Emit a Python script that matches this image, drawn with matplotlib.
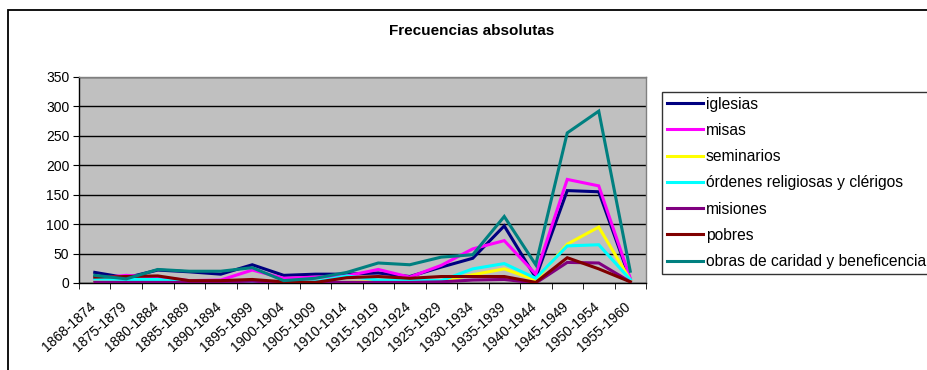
import matplotlib.pyplot as plt
from matplotlib.patches import Rectangle
import matplotlib.transforms as mtransforms
import numpy as np

plt.rcParams['font.family'] = ['Liberation Sans', 'DejaVu Sans']

periods = ['1868-1874', '1875-1879', '1880-1884', '1885-1889', '1890-1894',
           '1895-1899', '1900-1904', '1905-1909', '1910-1914', '1915-1919',
           '1920-1924', '1925-1929', '1930-1934', '1935-1939', '1940-1944',
           '1945-1949', '1950-1954', '1955-1960']

iglesias = [18, 9, 22, 19, 15, 31, 13, 15, 15, 17, 11, 27, 42, 97, 9, 157, 155, 6]
misas = [8, 13, 10, 4, 5, 22, 8, 10, 12, 23, 10, 30, 58, 72, 15, 176, 165, 8]
seminarios = [1, 1, 1, 1, 1, 1, 0, 0, 1, 2, 2, 4, 14, 24, 5, 66, 95, 5]
ordenes = [7, 6, 6, 1, 1, 2, 1, 2, 12, 5, 5, 4, 24, 33, 8, 63, 65, 6]
misiones = [1, 1, 1, 1, 2, 3, 1, 1, 1, 1, 1, 2, 5, 6, 0, 35, 34, 2]
pobres = [10, 11, 12, 4, 4, 6, 2, 1, 9, 11, 8, 11, 11, 11, 1, 43, 24, 2]
obras = [13, 7, 23, 20, 20, 26, 4, 8, 18, 34, 31, 44, 48, 113, 31, 255, 292, 20]

series = [
    ("iglesias", iglesias, "#000080"),
    ("misas", misas, "#FF00FF"),
    ("seminarios", seminarios, "#FFFF00"),
    ("órdenes religiosas y clérigos", ordenes, "#00FFFF"),
    ("misiones", misiones, "#800080"),
    ("pobres", pobres, "#800000"),
    ("obras de caridad y beneficencia", obras, "#008080"),
]

W, H = 928, 370
fig = plt.figure(figsize=(W / 100, H / 100), dpi=100)

# outer chart frame (cut off on right and bottom like the source)
fig.patches.append(Rectangle((8 / W, -0.1), 1.2, 1.1 - 10 / H, transform=fig.transFigure,
                             fill=False, edgecolor='black', linewidth=1.3))

ax = fig.add_axes([79 / W, 1 - 283 / H, (646 - 79) / W, (283 - 77) / H])
ax.set_facecolor('#C0C0C0')

x = np.arange(len(periods))
for name, vals, col in series:
    ax.plot(x, vals, color=col, linewidth=2.2, label=name, solid_joinstyle='miter', zorder=3)

ax.set_xlim(-0.5, len(periods) - 0.5)
ax.set_ylim(0, 350)
ax.set_yticks(range(0, 351, 50))
ax.yaxis.grid(True, color='black', linewidth=1.0, zorder=1)
ax.set_axisbelow(True)

ax.set_xticks(x)
ax.set_xticklabels(periods, rotation=42, ha='right', va='top', rotation_mode='anchor', fontsize=10)
ax.tick_params(axis='x', length=0, pad=12)
shift = mtransforms.ScaledTranslation(-6 / 100, 0, fig.dpi_scale_trans)
for lab in ax.get_xticklabels():
    lab.set_transform(lab.get_transform() + shift)
ax.set_xticks(np.arange(-0.5, len(periods), 1), minor=True)
ax.tick_params(axis='x', which='minor', length=4, direction='out', color='black')
ax.tick_params(axis='y', length=4, direction='out', labelsize=10, pad=3)

for s in ['top', 'right']:
    ax.spines[s].set_color('#808080')
for s in ['left', 'bottom']:
    ax.spines[s].set_color('black')
for s in ax.spines.values():
    s.set_linewidth(1.0)

fig.text(472 / W, 1 - 31 / H, "Frecuencias absolutas", ha='center', va='center',
         fontsize=11, fontweight='bold')

# legend runs past the right edge of the picture, as in the source
leg = fig.legend(loc='upper left', bbox_to_anchor=(662 / W, 1 - 92 / H),
                 fontsize=11.25, frameon=True, fancybox=False, edgecolor='black',
                 handlelength=2.35, handletextpad=0.15, labelspacing=0.72,
                 borderpad=0.3, borderaxespad=0)
leg.get_frame().set_linewidth(1.0)

fig.savefig('out.png', dpi=100)
